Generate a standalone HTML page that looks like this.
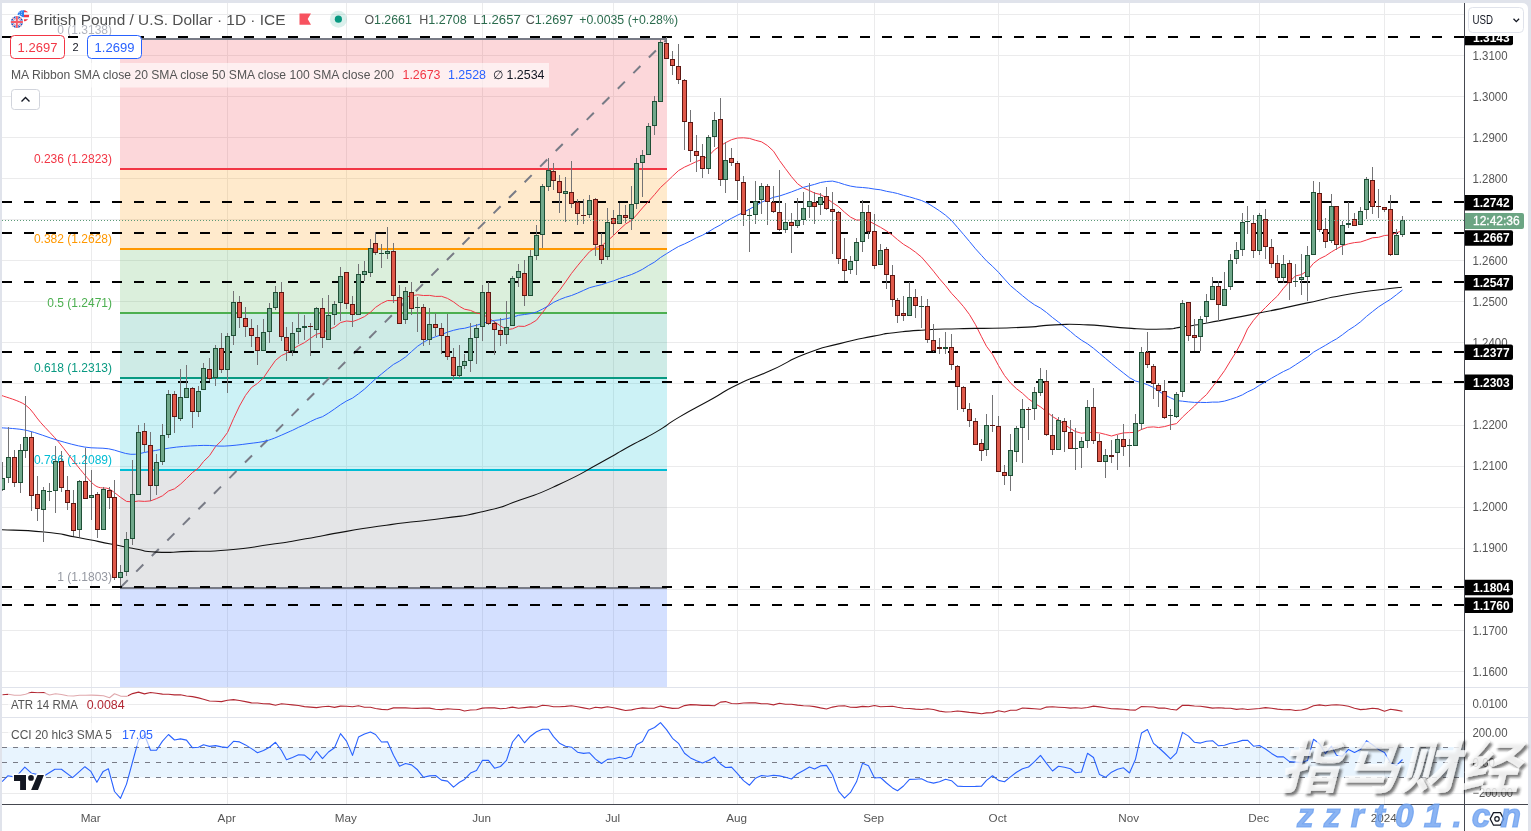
<!DOCTYPE html><html><head><meta charset="utf-8"><title>GBPUSD</title><style>html,body{margin:0;padding:0;background:#fff}body{width:1531px;height:831px;overflow:hidden}</style></head><body><svg width="1531" height="831" viewBox="0 0 1531 831" style="display:block;font-family:'Liberation Sans', Arial, sans-serif">
<defs><clipPath id="cm"><rect x="2" y="3" width="1462" height="684"/></clipPath><clipPath id="ca"><rect x="2" y="3" width="1462.5" height="801.5"/></clipPath><clipPath id="cc"><rect x="2" y="718" width="1462.5" height="86.5"/></clipPath><clipPath id="cx"><rect x="1465" y="36" width="64" height="770"/></clipPath><filter id="sh" x="-10%" y="-10%" width="130%" height="140%"><feDropShadow dx="2.6" dy="2.6" stdDeviation="0.8" flood-color="#222" flood-opacity="0.8"/></filter></defs>
<rect width="1531" height="831" fill="#e0e3eb"/>
<path d="M2 3 H1522 Q1528 3 1528 9 V831 H2 Z" fill="#fff"/>
<path d="M91.5 3V804M227.5 3V804M346.5 3V804M482.5 3V804M613.5 3V804M737.5 3V804M874.5 3V804M998.5 3V804M1129.5 3V804M1259.5 3V804M1384.5 3V804M2 14.5H1464M2 55.5H1464M2 96.5H1464M2 137.5H1464M2 178.5H1464M2 219.5H1464M2 260.5H1464M2 301.5H1464M2 342.5H1464M2 383.5H1464M2 425.5H1464M2 466.5H1464M2 507.5H1464M2 548.5H1464M2 589.5H1464M2 630.5H1464M2 671.5H1464M2 704.5H1464M2 732.5H1464M2 793.5H1464" stroke="#ebebec" stroke-width="1" fill="none" shape-rendering="crispEdges"/>
<path d="M2 687.5H1528M2 717.5H1528" stroke="#e0e3eb" stroke-width="1" shape-rendering="crispEdges"/>
<g clip-path="url(#cm)" shape-rendering="crispEdges">
<rect x="120" y="39" width="547" height="130" fill="#f23645" fill-opacity="0.2"/>
<rect x="120" y="169" width="547" height="80.1" fill="#ff9800" fill-opacity="0.2"/>
<rect x="120" y="249.1" width="547" height="64.1" fill="#4caf50" fill-opacity="0.2"/>
<rect x="120" y="313.2" width="547" height="64.8" fill="#089981" fill-opacity="0.2"/>
<rect x="120" y="378" width="547" height="92" fill="#00bcd4" fill-opacity="0.2"/>
<rect x="120" y="470" width="547" height="117.7" fill="#787b86" fill-opacity="0.2"/>
<rect x="120" y="587.7" width="547" height="99.3" fill="#2962ff" fill-opacity="0.2"/>
<rect x="120" y="38" width="547" height="2" fill="#787b86"/>
<rect x="120" y="168" width="547" height="2" fill="#f23645"/>
<rect x="120" y="248" width="547" height="2" fill="#ff9800"/>
<rect x="120" y="312" width="547" height="2" fill="#4caf50"/>
<rect x="120" y="377" width="547" height="2" fill="#089981"/>
<rect x="120" y="469" width="547" height="2" fill="#00bcd4"/>
<rect x="120" y="587" width="547" height="2" fill="#787b86"/>
</g>
<path d="M120.7 587.2L666.6 39.8" stroke="#787b86" stroke-width="2" stroke-dasharray="10 12" fill="none" clip-path="url(#cm)"/>
<text x="112" y="33.6" font-size="12" fill="#b2b5be" text-anchor="end">0 (1.3138)</text>
<text x="112" y="162.8" font-size="12" fill="#f23645" text-anchor="end">0.236 (1.2823)</text>
<text x="112" y="242.9" font-size="12" fill="#ff9800" text-anchor="end">0.382 (1.2628)</text>
<text x="112" y="307" font-size="12" fill="#4caf50" text-anchor="end">0.5 (1.2471)</text>
<text x="112" y="371.8" font-size="12" fill="#089981" text-anchor="end">0.618 (1.2313)</text>
<text x="112" y="463.8" font-size="12" fill="#00bcd4" text-anchor="end">0.786 (1.2089)</text>
<text x="112" y="581" font-size="12" fill="#9598a1" text-anchor="end">1 (1.1803)</text>
<path d="M2 37H1464M2 202H1464M2 233H1464M2 282H1464M2 352H1464M2 382H1464M2 587H1464M2 605H1464" stroke="#000" stroke-width="2" stroke-dasharray="10 12" fill="none" shape-rendering="crispEdges"/>
<g clip-path="url(#cm)" fill="none" stroke-linejoin="round">
<path d="M1.7 395.5C5.7 397.1 19 400.5 25.5 405C32 409.5 35.1 416.4 40.8 422.7C46.4 429 53.2 435.6 59.4 443C65.6 450.4 72.1 459.7 78.1 466.8C84 473.9 90.1 481.9 95.1 485.5C100.1 489.1 104.8 487.3 108 488.5C111.2 489.7 113.4 491.9 114.5 492.6 L114.5 492.6 L120.5 497.3 L126.5 501.4 L132.5 501.9 L138.5 501 L144.5 501.4 L150.5 500.9 L156.5 498.6 L162.5 495.8 L168.5 491 L174.5 488.8 L180.5 484.2 L186.5 478.5 L192.5 472.5 L198.5 468 L203.5 461.5 L209.5 455.7 L215.5 446.6 L221.5 440.6 L227.5 432.5 L233.5 418.7 L239.5 406 L245.5 395.4 L251.5 387.5 L257.5 383.4 L263.5 377.8 L269.5 368.9 L275.5 360.4 L281.5 355.5 L286.5 353.3 L292.5 349.1 L298.5 345.7 L304.5 342.6 L310.5 338.3 L316.5 334.2 L322.5 332.7 L328.5 329.5 L334.5 327.3 L340.5 322.6 L346.5 321 L352.5 321.6 L358.5 319.4 L364.5 316.6 L370.5 312.2 L375.5 307.4 L381.5 303.4 L387.5 300.5 L393.5 300.7 L399.5 300.1 L405.5 297.1 L411.5 295.8 L417.5 294.8 L423.5 295.5 L429.5 295.4 L435.5 296.4 L441.5 296.3 L447.5 298.4 L453.5 301.9 L459.5 306.4 L464.5 309.2 L470.5 310.4 L476.5 313.1 L482.5 314.1 L488.5 317.9 L494.5 321.8 L500.5 325.9 L506.5 329.7 L512.5 328.8 L518.5 326.2 L524.5 326.4 L530.5 323.8 L536.5 320.2 L542.5 312.5 L548.5 304.8 L553.5 297.4 L559.5 290.3 L565.5 282 L571.5 273.4 L577.5 265.8 L583.5 258.6 L589.5 251.7 L595.5 247.5 L601.5 245.9 L607.5 240.8 L613.5 235.5 L619.5 229.5 L625.5 224.1 L631.5 220.4 L636.5 215 L642.5 207.9 L648.5 201.4 L654.5 194.7 L660.5 187.5 L666.5 182 L672.5 176.2 L678.5 170.6 L684.5 167.1 L690.5 164.4 L696.5 161.5 L702.5 159.2 L708.5 156.1 L714.5 149.8 L720.5 145.8 L725.5 142.7 L731.5 139.7 L737.5 138 L743.5 137.8 L749.5 138.4 L755.5 140.3 L761.5 141.8 L767.5 145.6 L773.5 151.2 L779.5 160.5 L785.5 168.7 L791.5 176.7 L797.5 183.7 L803.5 188 L809.5 190.6 L814.5 193.1 L820.5 194.5 L826.5 198.1 L832.5 202.7 L838.5 206.6 L844.5 212.2 L850.5 217.1 L856.5 220.1 L862.5 220 L868.5 220.8 L874.5 224.1 L880.5 227.3 L886.5 230.9 L892.5 235.3 L897.5 239.6 L903.5 244.3 L909.5 247.9 L915.5 252.2 L921.5 257.1 L927.5 264 L933.5 271.2 L939.5 278.8 L945.5 285.7 L951.5 293.3 L957.5 299.7 L963.5 306.6 L969.5 314.6 L975.5 324.7 L981.5 336.7 L986.5 346.3 L992.5 354.3 L998.5 365.5 L1004.5 375.5 L1010.5 383 L1016.5 388.7 L1022.5 393.3 L1028.5 398.9 L1034.5 403.2 L1040.5 406.9 L1046.5 411.6 L1052.5 416.6 L1058.5 420.1 L1064.5 424.4 L1070.5 428.6 L1075.5 431.6 L1081.5 433.2 L1087.5 432.5 L1093.5 432.4 L1099.5 432.9 L1105.5 434.4 L1111.5 436 L1117.5 434.3 L1123.5 432.9 L1129.5 432.6 L1135.5 432.4 L1141.5 429.5 L1147.5 427.3 L1153.5 426.9 L1158.5 427.5 L1164.5 426.6 L1170.5 424.9 L1176.5 423.6 L1182.5 417.1 L1188.5 411.5 L1194.5 406 L1200.5 399.9 L1206.5 394.6 L1212.5 386.8 L1218.5 379 L1224.5 370.7 L1230.5 360.8 L1236.5 351.3 L1242.5 340.1 L1247.5 328.9 L1253.5 320.3 L1259.5 313.4 L1265.5 307.5 L1271.5 301.5 L1277.5 295.9 L1283.5 288.2 L1289.5 281.6 L1295.5 275.9 L1301.5 274.6 L1307.5 270.6 L1313.5 263.3 L1319.5 258.8 L1325.5 255.9 L1331.5 251.9 L1336.5 248.9 L1342.5 245.7 L1348.5 243.8 L1354.5 242.6 L1360.5 242 L1366.5 240 L1372.5 237.8 L1378.5 237.3 L1384.5 235.5 L1390.5 235 L1396.5 232.8 L1402.5 230.6" stroke="#f23645" stroke-width="1"/>
<path d="M1.7 427.8C6 428.2 17.9 428.4 27.2 430.5C36.5 432.6 48.1 437.5 57.7 440.3C67.3 443.1 76.4 445.7 84.9 447.1C93.4 448.5 101 447.6 108.7 448.8C116.4 450 124 453.9 130.8 454.3C137.6 454.8 141.9 452.7 149.5 451.5C157.1 450.3 167.5 448.1 176.6 447.1C185.7 446.1 195.9 445.6 203.8 445.4C211.7 445.2 216.8 446.4 224.2 446.1C231.6 445.8 240.7 444.7 248 443.7C255.3 442.7 260.9 442.5 268.3 440.3C275.7 438.1 288.5 431.9 292.5 430.3 L292.5 430.3 L298.5 427.3 L304.5 424.7 L310.5 421.5 L316.5 418.7 L322.5 416.7 L328.5 413.1 L334.5 409 L340.5 404.7 L346.5 401 L352.5 398.1 L358.5 393.8 L364.5 389.1 L370.5 383.5 L375.5 378.9 L381.5 374 L387.5 369.1 L393.5 364.4 L399.5 361.1 L405.5 357 L411.5 351.6 L417.5 346.3 L423.5 342.3 L429.5 338.9 L435.5 336.8 L441.5 334.7 L447.5 332.1 L453.5 330.3 L459.5 328.9 L464.5 328.3 L470.5 326.7 L476.5 325.3 L482.5 323.4 L488.5 321.6 L494.5 320.4 L500.5 319.8 L506.5 318.7 L512.5 317.3 L518.5 315.3 L524.5 314.5 L530.5 313.6 L536.5 312 L542.5 309.1 L548.5 305.8 L553.5 302.4 L559.5 299.6 L565.5 297.3 L571.5 295.5 L577.5 293.1 L583.5 290.4 L589.5 287.7 L595.5 286.1 L601.5 284.7 L607.5 282.6 L613.5 280.9 L619.5 278.5 L625.5 276.5 L631.5 274.5 L636.5 272.3 L642.5 269.3 L648.5 265.5 L654.5 262.1 L660.5 257.5 L666.5 253.7 L672.5 250 L678.5 246.5 L684.5 243.9 L690.5 241 L696.5 237.7 L702.5 235.2 L708.5 231.8 L714.5 228.1 L720.5 224.9 L725.5 221.6 L731.5 218.3 L737.5 215.2 L743.5 212.3 L749.5 209.1 L755.5 205.8 L761.5 202.3 L767.5 199.6 L773.5 197.3 L779.5 196 L785.5 194 L791.5 191.9 L797.5 189.6 L803.5 187.3 L809.5 185.7 L814.5 184.4 L820.5 182.5 L826.5 181.5 L832.5 181.1 L838.5 182.5 L844.5 184.5 L850.5 186.1 L856.5 187.1 L862.5 187.5 L868.5 188.1 L874.5 189.1 L880.5 189.8 L886.5 191.3 L892.5 192.4 L897.5 193.5 L903.5 195.4 L909.5 196.9 L915.5 198.7 L921.5 200.5 L927.5 203.2 L933.5 206.9 L939.5 210.8 L945.5 215.2 L951.5 220.5 L957.5 227.4 L963.5 234.4 L969.5 241.5 L975.5 248.8 L981.5 255.4 L986.5 260.9 L992.5 266.3 L998.5 272.3 L1004.5 279.1 L1010.5 285.7 L1016.5 290.7 L1022.5 295.7 L1028.5 300.6 L1034.5 304.8 L1040.5 308.1 L1046.5 312.5 L1052.5 317.5 L1058.5 322.1 L1064.5 326.7 L1070.5 331.5 L1075.5 335.8 L1081.5 340.2 L1087.5 343.8 L1093.5 348.3 L1099.5 353.3 L1105.5 358.4 L1111.5 363.4 L1117.5 368.3 L1123.5 373 L1129.5 377.7 L1135.5 381 L1141.5 382.6 L1147.5 384.7 L1153.5 387.5 L1158.5 391.1 L1164.5 394.8 L1170.5 397.8 L1176.5 400.6 L1182.5 401.2 L1188.5 401.9 L1194.5 402.4 L1200.5 402.4 L1206.5 402.5 L1212.5 402.1 L1218.5 402.1 L1224.5 401.1 L1230.5 399.3 L1236.5 397.3 L1242.5 394.8 L1247.5 391.9 L1253.5 389.2 L1259.5 385.3 L1265.5 381.8 L1271.5 378.2 L1277.5 374.8 L1283.5 371.5 L1289.5 368.7 L1295.5 364.8 L1301.5 360.9 L1307.5 357 L1313.5 352.2 L1319.5 348.7 L1325.5 345.3 L1331.5 341.6 L1336.5 338.9 L1342.5 334.7 L1348.5 330.1 L1354.5 326.3 L1360.5 321.8 L1366.5 316.4 L1372.5 311.6 L1378.5 306.9 L1384.5 303 L1390.5 299.3 L1396.5 294.7 L1402.5 290" stroke="#2962ff" stroke-width="1"/>
<path d="M1.7 529.7C15.9 530.5 18.7 529.4 44.2 532C69.7 534.6 55.5 533.4 78.1 537.5C100.7 541.6 92.8 540.5 112.1 544.3C131.4 548.1 121.2 546.4 135.9 549C150.6 551.6 138.2 551.3 156.3 552.1C174.4 552.9 166.4 552.1 190.2 551.4C214 550.7 200.4 552.4 227.6 550C254.8 547.6 245.7 548 271.7 544.3C297.7 540.6 280.8 543.1 305.7 538.8C330.6 534.5 318.2 536.1 346.5 531.4C374.8 526.7 358.9 528.9 390.6 524.6C422.3 520.3 411 522.8 441.6 518.5C472.2 514.2 456.2 517.8 482.3 511.7C508.4 505.6 494.1 509.3 520 500.1C545.9 490.9 533.3 496.4 560 484C586.7 471.6 576.7 475.7 600 463C623.3 450.3 611.2 456.4 630 446C648.8 435.6 639.6 441.7 656.3 431.9C673 422.1 661.9 427.3 680 416.6C698.1 405.9 691.3 410.4 710.6 399.7C729.9 389 717.4 394.3 737.8 384.4C758.2 374.5 749.1 380.3 771.7 370.1C794.3 359.9 783 362.6 805.7 353.8C828.4 345 817.1 349.5 839.7 343.6C862.3 337.7 855.5 339.7 873.6 336.1C891.7 332.5 877 334.7 894 332.7C911 330.7 903.1 331.3 924.6 330C946.1 328.7 936 329.3 958.6 328.7C981.2 328.1 969.6 328.7 992.5 328.2C1015.4 327.7 1006.6 328.2 1027.4 327.1C1048.2 326 1034.8 325.6 1054.9 324.9C1075 324.2 1062.2 323.7 1087.8 324.9C1113.4 326.1 1106.1 327 1131.7 328.4C1157.3 329.8 1148.1 329.4 1164.6 329C1181.1 328.6 1166.5 329.2 1181.1 327.1C1195.7 325 1182.9 327.3 1208.5 322.7C1234.1 318.1 1225 319.9 1257.9 313.3C1290.8 306.7 1279 308.9 1307.3 302.9C1335.6 296.9 1317.3 299.8 1342.9 295.2C1368.5 290.6 1364.4 291.8 1384.1 289.2C1403.8 286.6 1396 287.9 1401.9 287.3" stroke="#111" stroke-width="1.1"/>
</g>
<g clip-path="url(#cm)" shape-rendering="crispEdges">
<path d="M2.5 462V491M8.5 427V483M14.5 450V487M20.5 444V493M25.5 396V458M31.5 432V511M37.5 476V521M43.5 487V542M49.5 483V501M55.5 446V513M61.5 451V492M67.5 476V510M73.5 490V536M79.5 480V537M85.5 448V499M91.5 470V520M97.5 492V538M103.5 487V530M109.5 487V509M114.5 480V580M120.5 565V586M126.5 532V576M132.5 460V545M138.5 425V495M144.5 423V452M150.5 432V501M156.5 454V495M162.5 424V465M168.5 390V438M174.5 391V433M180.5 369V421M186.5 365V398M192.5 387V428M198.5 386V417M203.5 363V390M209.5 358V381M215.5 345V386M221.5 333V373M227.5 333V393M233.5 291V345M239.5 296V328M245.5 307V337M251.5 319V347M257.5 325V365M263.5 319V351M269.5 303V343M275.5 286V310M281.5 282V341M286.5 327V361M292.5 322V356M298.5 312V344M304.5 315V340M310.5 323V356M316.5 307V338M322.5 298V348M328.5 295V340M334.5 301V325M340.5 267V321M346.5 272V309M352.5 296V327M358.5 264V315M364.5 261V281M370.5 239V277M375.5 232V255M381.5 244V268M387.5 227V259M393.5 243V303M399.5 285V324M405.5 287V324M411.5 282V315M417.5 297V332M423.5 304V346M429.5 308V345M435.5 313V336M441.5 323V354M447.5 314V360M453.5 348V380M459.5 345V378M464.5 354V369M470.5 323V372M476.5 324V364M482.5 285V341M488.5 282V325M494.5 321V355M500.5 318V346M506.5 301V344M512.5 276V326M518.5 264V287M524.5 260V306M530.5 250V296M536.5 225V260M542.5 184V248M548.5 158V191M553.5 163V190M559.5 175V213M565.5 177V222M571.5 161V208M577.5 199V225M583.5 199V224M589.5 195V218M595.5 198V256M601.5 233V264M607.5 208V260M613.5 210V235M619.5 203V224M625.5 205V223M631.5 186V230M636.5 158V209M642.5 150V197M648.5 123V155M654.5 96V135M660.5 39V102M666.5 37V59M672.5 51V75M678.5 44V84M684.5 79V150M690.5 110V162M696.5 135V172M702.5 144V178M708.5 135V174M714.5 112V147M720.5 98V186M725.5 142V193M731.5 148V166M737.5 161V200M743.5 176V226M749.5 209V252M755.5 181V224M761.5 183V214M767.5 184V225M773.5 186V213M779.5 170V231M785.5 203V233M791.5 213V253M797.5 198V228M803.5 192V225M809.5 183V218M814.5 192V224M820.5 193V215M826.5 187V210M832.5 192V254M838.5 211V264M844.5 238V281M850.5 256V274M856.5 238V275M862.5 200V252M868.5 205V239M874.5 214V269M880.5 244V265M886.5 247V289M892.5 265V307M897.5 298V323M903.5 296V321M909.5 282V316M915.5 289V318M921.5 296V328M927.5 299V343M933.5 324V352M939.5 338V354M945.5 332V354M951.5 334V370M957.5 365V410M963.5 386V412M969.5 403V427M975.5 418V445M981.5 439V461M986.5 414V456M992.5 395V432M998.5 416V472M1004.5 465V485M1010.5 434V491M1016.5 426V462M1022.5 399V463M1028.5 407V440M1034.5 387V420M1040.5 368V396M1046.5 370V436M1052.5 414V455M1058.5 417V450M1064.5 418V452M1070.5 420V449M1075.5 428V470M1081.5 437V468M1087.5 400V448M1093.5 388V444M1099.5 434V462M1105.5 449V478M1111.5 440V463M1117.5 435V470M1123.5 424V456M1129.5 439V467M1135.5 414V446M1141.5 347V430M1147.5 332V368M1153.5 364V399M1158.5 383V407M1164.5 380V419M1170.5 409V430M1176.5 392V418M1182.5 300V397M1188.5 302V341M1194.5 319V351M1200.5 316V351M1206.5 294V324M1212.5 277V300M1218.5 281V321M1224.5 272V306M1230.5 254V290M1236.5 242V264M1242.5 213V256M1247.5 206V234M1253.5 215V258M1259.5 213V255M1265.5 209V259M1271.5 239V268M1277.5 255V281M1283.5 255V283M1289.5 260V300M1295.5 264V287M1301.5 254V295M1307.5 246V301M1313.5 181V255M1319.5 182V232M1325.5 218V248M1331.5 194V243M1336.5 206V250M1342.5 221V255M1348.5 202V228M1354.5 213V226M1360.5 207V225M1366.5 177V219M1372.5 167V214M1378.5 189V218M1384.5 207V212M1390.5 195V256M1396.5 229V255M1402.5 216V237" stroke="#737375" stroke-width="1" fill="none"/>
<path d="M0.5 478.5h4v11h-4zM6.5 457.5h4v20h-4zM18.5 450.5h4v32h-4zM23.5 437.5h4v13h-4zM41.5 490.5h4v19h-4zM47 491.5h5M53.5 461.5h4v29h-4zM77.5 481.5h4v48h-4zM89.5 495.5h4v2h-4zM101.5 489.5h4v40h-4zM118.5 572.5h4v5h-4zM124.5 539.5h4v32h-4zM130.5 494.5h4v44h-4zM136.5 432.5h4v62h-4zM154.5 462.5h4v23h-4zM160.5 435.5h4v26h-4zM166.5 394.5h4v40h-4zM178.5 397.5h4v21h-4zM184.5 388.5h4v9h-4zM196.5 391.5h4v20h-4zM201.5 368.5h4v21h-4zM213.5 348.5h4v29h-4zM225.5 336.5h4v33h-4zM231.5 302.5h4v33h-4zM261.5 332.5h4v18h-4zM267.5 308.5h4v23h-4zM273.5 292.5h4v15h-4zM290.5 333.5h4v17h-4zM296.5 328.5h4v3h-4zM302.5 326.5h4v1h-4zM314.5 308.5h4v21h-4zM326.5 315.5h4v24h-4zM332.5 304.5h4v10h-4zM338.5 276.5h4v26h-4zM356.5 274.5h4v40h-4zM362.5 271.5h4v3h-4zM368.5 248.5h4v24h-4zM379 253.5h5M385.5 251.5h4v2h-4zM403.5 291.5h4v28h-4zM415 307.5h5M427.5 324.5h4v15h-4zM457.5 366.5h4v9h-4zM462.5 361.5h4v4h-4zM468.5 338.5h4v22h-4zM474.5 328.5h4v9h-4zM480.5 292.5h4v34h-4zM504.5 327.5h4v7h-4zM510.5 278.5h4v47h-4zM516.5 271.5h4v6h-4zM528.5 256.5h4v39h-4zM534.5 235.5h4v20h-4zM540.5 186.5h4v48h-4zM546.5 170.5h4v16h-4zM563.5 191.5h4v2h-4zM587.5 200.5h4v14h-4zM605.5 222.5h4v34h-4zM617.5 215.5h4v8h-4zM629.5 204.5h4v14h-4zM634.5 163.5h4v40h-4zM640.5 155.5h4v7h-4zM646.5 126.5h4v28h-4zM652.5 101.5h4v24h-4zM658.5 42.5h4v59h-4zM706.5 137.5h4v31h-4zM712.5 120.5h4v16h-4zM723.5 160.5h4v19h-4zM747 215.5h5M753.5 201.5h4v13h-4zM759.5 186.5h4v13h-4zM783.5 222.5h4v7h-4zM795.5 220.5h4v5h-4zM801.5 208.5h4v11h-4zM807.5 201.5h4v5h-4zM818.5 197.5h4v7h-4zM848.5 261.5h4v8h-4zM854.5 242.5h4v18h-4zM860.5 212.5h4v29h-4zM878.5 250.5h4v14h-4zM907.5 297.5h4v18h-4zM919 306.5h5M943.5 347.5h4v1h-4zM984.5 425.5h4v24h-4zM1008.5 450.5h4v25h-4zM1014.5 428.5h4v23h-4zM1020.5 409.5h4v18h-4zM1032.5 392.5h4v16h-4zM1038.5 379.5h4v13h-4zM1056.5 420.5h4v29h-4zM1073 448.5h5M1079.5 441.5h4v6h-4zM1085.5 407.5h4v33h-4zM1103.5 455.5h4v6h-4zM1115.5 439.5h4v13h-4zM1127 445.5h5M1133.5 423.5h4v22h-4zM1139.5 352.5h4v71h-4zM1168 415.5h5M1174.5 394.5h4v22h-4zM1180.5 303.5h4v88h-4zM1198.5 319.5h4v17h-4zM1204.5 301.5h4v15h-4zM1210.5 286.5h4v13h-4zM1222.5 289.5h4v16h-4zM1228.5 260.5h4v26h-4zM1234.5 250.5h4v8h-4zM1240.5 222.5h4v27h-4zM1245 221.5h5M1257.5 215.5h4v35h-4zM1281.5 264.5h4v13h-4zM1293 281.5h5M1299.5 277.5h4v2h-4zM1305.5 255.5h4v21h-4zM1311.5 192.5h4v62h-4zM1329.5 206.5h4v34h-4zM1340.5 225.5h4v19h-4zM1346.5 223.5h4v1h-4zM1358.5 211.5h4v13h-4zM1364.5 179.5h4v30h-4zM1394.5 235.5h4v19h-4zM1400.5 220.5h4v14h-4z" stroke="#1f4f36" stroke-width="1" fill="#70a88b"/>
<path d="M12.5 457.5h4v25h-4zM29.5 437.5h4v58h-4zM35.5 494.5h4v14h-4zM59.5 461.5h4v26h-4zM65.5 490.5h4v12h-4zM71.5 503.5h4v27h-4zM83.5 481.5h4v17h-4zM95.5 494.5h4v35h-4zM107.5 490.5h4v7h-4zM112.5 497.5h4v80h-4zM142.5 431.5h4v13h-4zM148.5 445.5h4v40h-4zM172.5 394.5h4v22h-4zM190.5 388.5h4v23h-4zM207.5 369.5h4v9h-4zM219.5 348.5h4v21h-4zM237.5 302.5h4v15h-4zM243.5 318.5h4v8h-4zM249.5 328.5h4v7h-4zM255.5 337.5h4v13h-4zM279.5 292.5h4v44h-4zM284.5 337.5h4v13h-4zM308 326.5h5M320.5 308.5h4v29h-4zM344.5 272.5h4v31h-4zM350.5 304.5h4v10h-4zM373.5 243.5h4v9h-4zM391.5 251.5h4v44h-4zM397.5 297.5h4v26h-4zM409.5 292.5h4v16h-4zM421.5 307.5h4v32h-4zM433.5 324.5h4v3h-4zM439.5 328.5h4v7h-4zM445.5 336.5h4v20h-4zM451.5 357.5h4v18h-4zM486.5 292.5h4v31h-4zM492.5 323.5h4v6h-4zM498.5 330.5h4v4h-4zM522.5 273.5h4v22h-4zM551.5 171.5h4v9h-4zM557.5 181.5h4v11h-4zM569.5 192.5h4v11h-4zM575.5 202.5h4v11h-4zM581 215.5h5M593.5 199.5h4v45h-4zM599.5 245.5h4v14h-4zM611.5 218.5h4v5h-4zM623.5 215.5h4v2h-4zM664.5 43.5h4v15h-4zM670.5 59.5h4v6h-4zM676.5 66.5h4v13h-4zM682.5 80.5h4v41h-4zM688.5 122.5h4v28h-4zM694.5 151.5h4v4h-4zM700.5 156.5h4v12h-4zM718.5 119.5h4v60h-4zM729.5 158.5h4v4h-4zM735.5 163.5h4v17h-4zM741.5 182.5h4v32h-4zM765.5 186.5h4v15h-4zM771.5 202.5h4v9h-4zM777.5 212.5h4v17h-4zM789.5 222.5h4v3h-4zM812.5 202.5h4v4h-4zM824.5 196.5h4v12h-4zM830.5 209.5h4v2h-4zM836.5 212.5h4v46h-4zM842.5 259.5h4v11h-4zM866.5 212.5h4v19h-4zM872.5 231.5h4v34h-4zM884.5 249.5h4v25h-4zM890.5 275.5h4v24h-4zM895.5 300.5h4v15h-4zM901.5 313.5h4v2h-4zM913.5 297.5h4v8h-4zM925.5 306.5h4v33h-4zM931.5 340.5h4v10h-4zM937.5 347.5h4v1h-4zM949.5 347.5h4v17h-4zM955.5 366.5h4v20h-4zM961.5 387.5h4v21h-4zM967.5 409.5h4v11h-4zM973.5 421.5h4v23h-4zM979.5 443.5h4v7h-4zM990 425.5h5M996.5 426.5h4v45h-4zM1002.5 472.5h4v3h-4zM1026 409.5h5M1044.5 381.5h4v53h-4zM1050.5 435.5h4v14h-4zM1062.5 421.5h4v10h-4zM1068.5 432.5h4v16h-4zM1091.5 407.5h4v33h-4zM1097.5 441.5h4v20h-4zM1109.5 455.5h4v1h-4zM1121.5 439.5h4v7h-4zM1145.5 352.5h4v12h-4zM1151.5 366.5h4v17h-4zM1156.5 385.5h4v5h-4zM1162.5 391.5h4v26h-4zM1186.5 302.5h4v33h-4zM1192.5 335.5h4v2h-4zM1216.5 286.5h4v18h-4zM1251.5 223.5h4v27h-4zM1263.5 219.5h4v27h-4zM1269.5 247.5h4v16h-4zM1275.5 263.5h4v14h-4zM1287.5 263.5h4v19h-4zM1317.5 193.5h4v36h-4zM1323.5 229.5h4v12h-4zM1334.5 206.5h4v38h-4zM1352.5 219.5h4v6h-4zM1370.5 180.5h4v26h-4zM1376 206.5h5M1382.5 207.5h4v2h-4zM1388.5 209.5h4v45h-4z" stroke="#5e1712" stroke-width="1" fill="#e0594a"/>
</g>
<path d="M2 220.5H1464" stroke="#5b9a78" stroke-width="1" stroke-dasharray="1 2" shape-rendering="crispEdges"/>
<path d="M2.5 694.8 L8.5 694.3 L14.5 695.3 L20.5 695.3 L25.5 694.3 L31.5 692.2 L37.5 692.7 L43.5 692.5 L49.5 695 L55.5 693.7 L61.5 694.5 L67.5 695.7 L73.5 696 L79.5 695.3 L85.5 695.2 L91.5 695.1 L97.5 695.4 L103.5 695.8 L109.5 697.8 L114.5 693.8 L120.5 696.1 L126.5 696.4 L132.5 693.6 L138.5 692.1 L144.5 693.9 L150.5 692.5 L156.5 693.3 L162.5 694.1 L168.5 694.3 L174.5 694.9 L180.5 694.7 L186.5 696 L192.5 696.6 L198.5 697.9 L203.5 699.3 L209.5 701 L215.5 701.3 L221.5 701.6 L227.5 700.3 L233.5 699.6 L239.5 700.5 L245.5 701.6 L251.5 702.9 L257.5 703 L263.5 703.8 L269.5 703.9 L275.5 705.2 L281.5 703.7 L286.5 704.3 L292.5 704.9 L298.5 705.5 L304.5 706.6 L310.5 707.1 L316.5 707.6 L322.5 706.7 L328.5 706.2 L334.5 707.4 L340.5 706.1 L346.5 706.3 L352.5 706.8 L358.5 705.8 L364.5 707.3 L370.5 707.3 L375.5 708.5 L381.5 709.4 L387.5 709.7 L393.5 707.9 L399.5 707.8 L405.5 707.9 L411.5 708.3 L417.5 708.4 L423.5 708 L429.5 708.1 L435.5 709.2 L441.5 709.6 L447.5 708.8 L453.5 709.2 L459.5 709.5 L464.5 711 L470.5 710 L476.5 709.7 L482.5 708.1 L488.5 707.7 L494.5 707.9 L500.5 708.7 L506.5 708.2 L512.5 707.1 L518.5 708.3 L524.5 707.6 L530.5 706.9 L536.5 707.2 L542.5 705.2 L548.5 705.8 L553.5 706.8 L559.5 706.8 L565.5 706.4 L571.5 705.7 L577.5 706.8 L583.5 707.9 L589.5 709 L595.5 707.3 L601.5 707.9 L607.5 706.8 L613.5 707.8 L619.5 709.1 L625.5 710.5 L631.5 709.9 L636.5 708.7 L642.5 707.9 L648.5 708.3 L654.5 708.1 L660.5 706.1 L666.5 707.4 L672.5 708.4 L678.5 708.2 L684.5 705.6 L690.5 704.6 L696.5 704.9 L702.5 705.4 L708.5 705.4 L714.5 705.8 L720.5 702.1 L725.5 701.6 L731.5 703.5 L737.5 703.7 L743.5 703 L749.5 702.9 L755.5 702.9 L761.5 703.7 L767.5 703.8 L773.5 704.9 L779.5 703.3 L785.5 704.2 L791.5 704.3 L797.5 705.1 L803.5 705.7 L809.5 706 L814.5 706.6 L820.5 707.9 L826.5 709 L832.5 707.1 L838.5 706 L844.5 705.7 L850.5 707.3 L856.5 707.4 L862.5 706.4 L868.5 706.8 L874.5 705.5 L880.5 706.8 L886.5 706.5 L892.5 706.2 L897.5 707.3 L903.5 708.3 L909.5 708.5 L915.5 709.1 L921.5 709.5 L927.5 708.8 L933.5 709.5 L939.5 711.1 L945.5 712 L951.5 711.8 L957.5 711 L963.5 711.6 L969.5 712.4 L975.5 712.9 L981.5 713.7 L986.5 712.9 L992.5 712.6 L998.5 710.8 L1004.5 712 L1010.5 710.2 L1016.5 710.2 L1022.5 708 L1028.5 708.4 L1034.5 708.7 L1040.5 709.3 L1046.5 707.1 L1052.5 706.8 L1058.5 707.2 L1064.5 707.5 L1070.5 708.1 L1075.5 707.8 L1081.5 708.3 L1087.5 707.5 L1093.5 706.1 L1099.5 706.9 L1105.5 707.7 L1111.5 708.8 L1117.5 708.9 L1123.5 709.2 L1129.5 709.9 L1135.5 710.1 L1141.5 706.5 L1147.5 706.7 L1153.5 707 L1158.5 708.1 L1164.5 708 L1170.5 709.2 L1176.5 710 L1182.5 705.3 L1188.5 705.4 L1194.5 706 L1200.5 706.3 L1206.5 707.1 L1212.5 708.1 L1218.5 707.8 L1224.5 708.1 L1230.5 708.2 L1236.5 709.4 L1242.5 708.8 L1247.5 709.5 L1253.5 709 L1259.5 708.5 L1265.5 707.6 L1271.5 708.2 L1277.5 709.1 L1283.5 709.7 L1289.5 709.5 L1295.5 710.5 L1301.5 710 L1307.5 708.6 L1313.5 705.7 L1319.5 704.9 L1325.5 705.7 L1331.5 705 L1336.5 704.7 L1342.5 705.3 L1348.5 706.3 L1354.5 708.3 L1360.5 709.6 L1366.5 709.1 L1372.5 708.3 L1378.5 708.9 L1384.5 711.3 L1390.5 709.3 L1396.5 710.1 L1402.5 711.2" stroke="#b22833" stroke-width="1.1" fill="none" stroke-linejoin="round"/>
<rect x="2" y="747" width="1462" height="30.5" fill="#2196f3" fill-opacity="0.1"/>
<path d="M2 747.5H1464M2 762.5H1464M2 777.5H1464" stroke="#787b86" stroke-width="1" stroke-dasharray="5 6" shape-rendering="crispEdges"/>
<path d="M2.1 781.6 L7.8 775.8 L15.7 777.1 L24.8 767.2 L31.4 773.2 L44.4 775.8 L54.9 769.3 L61.4 769.3 L72.6 777.6 L84.9 766.7 L90.9 771.4 L96.9 782.3 L103.2 771.4 L108.4 768.8 L114.5 791.5 L120.5 798.3 L126.5 784.1 L132.5 762 L138.5 740.2 L144.5 734.7 L150.5 750.2 L156.5 750.2 L162.5 741.1 L168.5 734.5 L174.5 740 L180.5 738.9 L186.5 740.1 L192.5 747.8 L198.5 747.3 L203.5 744.8 L209.5 746.4 L215.5 745.6 L221.5 746.9 L227.5 747.6 L233.5 741.3 L239.5 741.9 L245.5 744.9 L251.5 748.6 L257.5 752.7 L263.5 750.6 L269.5 747.2 L275.5 742.3 L281.5 750.5 L286.5 759.8 L292.5 757.5 L298.5 754.8 L304.5 755.1 L310.5 760 L316.5 751.3 L322.5 758.6 L328.5 752 L334.5 747.7 L340.5 733.6 L346.5 741.1 L352.5 755.4 L358.5 737.1 L364.5 734 L370.5 732.1 L375.5 734.5 L381.5 742 L387.5 741.8 L393.5 755.3 L399.5 766.2 L405.5 763.5 L411.5 764.9 L417.5 769.8 L423.5 777.3 L429.5 775.9 L435.5 775.5 L441.5 780.1 L447.5 781.1 L453.5 787.1 L459.5 782.3 L464.5 779.4 L470.5 773.1 L476.5 770.6 L482.5 760.2 L488.5 760.4 L494.5 768.2 L500.5 766.5 L506.5 760.3 L512.5 742 L518.5 734.6 L524.5 742.8 L530.5 736.2 L536.5 731.7 L542.5 729.3 L548.5 729.2 L553.5 736.6 L559.5 743.2 L565.5 746.2 L571.5 747.2 L577.5 752.2 L583.5 753.4 L589.5 752.8 L595.5 759.1 L601.5 763.5 L607.5 759.4 L613.5 758.8 L619.5 757.3 L625.5 758.8 L631.5 756.4 L636.5 744.8 L642.5 741.5 L648.5 730.2 L654.5 727.5 L660.5 722.6 L666.5 729.6 L672.5 738.3 L678.5 743.3 L684.5 753.2 L690.5 757.9 L696.5 760.8 L702.5 763 L708.5 760.6 L714.5 757.1 L720.5 764 L725.5 767.5 L731.5 767.1 L737.5 773.6 L743.5 780.6 L749.5 785.2 L755.5 778.2 L761.5 775.5 L767.5 776.2 L773.5 775.2 L779.5 775.9 L785.5 777.3 L791.5 779 L797.5 773.7 L803.5 770.4 L809.5 766.9 L814.5 769 L820.5 765.9 L826.5 765.4 L832.5 774.8 L838.5 791.1 L844.5 798.2 L850.5 792.4 L856.5 781.8 L862.5 763.3 L868.5 765.7 L874.5 778 L880.5 777.5 L886.5 783 L892.5 787.9 L897.5 790.8 L903.5 786 L909.5 779.4 L915.5 779.2 L921.5 778.8 L927.5 781.8 L933.5 783.1 L939.5 781.8 L945.5 779.3 L951.5 780.7 L957.5 786.1 L963.5 786.5 L969.5 786.5 L975.5 786.4 L981.5 786.1 L986.5 780.4 L992.5 775.8 L998.5 780.4 L1004.5 781.8 L1010.5 776.9 L1016.5 772.3 L1022.5 768.7 L1028.5 767 L1034.5 761.7 L1040.5 755.4 L1046.5 763.3 L1052.5 771 L1058.5 766.3 L1064.5 767.2 L1070.5 768.7 L1075.5 772.8 L1081.5 772 L1087.5 753.3 L1093.5 757.5 L1099.5 774.6 L1105.5 777.3 L1111.5 772.2 L1117.5 769.3 L1123.5 767.8 L1129.5 773 L1135.5 759.2 L1141.5 733 L1147.5 729.6 L1153.5 743.4 L1158.5 747.5 L1164.5 753 L1170.5 758.9 L1176.5 752.8 L1182.5 732.4 L1188.5 736.1 L1194.5 742.3 L1200.5 743.1 L1206.5 741.2 L1212.5 740.7 L1218.5 745.8 L1224.5 745.2 L1230.5 743.3 L1236.5 742.2 L1242.5 740.4 L1247.5 740.2 L1253.5 746.2 L1259.5 745.5 L1265.5 749 L1271.5 753.4 L1277.5 756.9 L1283.5 756.9 L1289.5 761.6 L1295.5 762.1 L1301.5 762.6 L1307.5 760.6 L1313.5 739.3 L1319.5 743.8 L1325.5 753.6 L1331.5 746.2 L1336.5 755.3 L1342.5 756.2 L1348.5 749.4 L1354.5 752.5 L1360.5 749.6 L1366.5 740.7 L1372.5 744.7 L1378.5 749.4 L1384.5 752.4 L1390.5 762.8 L1396.5 765.5 L1402.5 759.5" stroke="#2962ff" stroke-width="1.1" fill="none" stroke-linejoin="round" clip-path="url(#cc)"/>
<path d="M1464.5 3V831M2 804.5H1528" stroke="#45474f" stroke-width="1" fill="none" shape-rendering="crispEdges"/>
<text x="1472.5" y="59.5" font-size="12" fill="#555555" textLength="35" lengthAdjust="spacingAndGlyphs">1.3100</text>
<text x="1472.5" y="100.6" font-size="12" fill="#555555" textLength="35" lengthAdjust="spacingAndGlyphs">1.3000</text>
<text x="1472.5" y="141.6" font-size="12" fill="#555555" textLength="35" lengthAdjust="spacingAndGlyphs">1.2900</text>
<text x="1472.5" y="182.7" font-size="12" fill="#555555" textLength="35" lengthAdjust="spacingAndGlyphs">1.2800</text>
<text x="1472.5" y="223.8" font-size="12" fill="#555555" textLength="35" lengthAdjust="spacingAndGlyphs">1.2700</text>
<text x="1472.5" y="264.9" font-size="12" fill="#555555" textLength="35" lengthAdjust="spacingAndGlyphs">1.2600</text>
<text x="1472.5" y="305.9" font-size="12" fill="#555555" textLength="35" lengthAdjust="spacingAndGlyphs">1.2500</text>
<text x="1472.5" y="347" font-size="12" fill="#555555" textLength="35" lengthAdjust="spacingAndGlyphs">1.2400</text>
<text x="1472.5" y="388.1" font-size="12" fill="#555555" textLength="35" lengthAdjust="spacingAndGlyphs">1.2300</text>
<text x="1472.5" y="429.1" font-size="12" fill="#555555" textLength="35" lengthAdjust="spacingAndGlyphs">1.2200</text>
<text x="1472.5" y="470.2" font-size="12" fill="#555555" textLength="35" lengthAdjust="spacingAndGlyphs">1.2100</text>
<text x="1472.5" y="511.3" font-size="12" fill="#555555" textLength="35" lengthAdjust="spacingAndGlyphs">1.2000</text>
<text x="1472.5" y="552.3" font-size="12" fill="#555555" textLength="35" lengthAdjust="spacingAndGlyphs">1.1900</text>
<text x="1472.5" y="593.4" font-size="12" fill="#555555" textLength="35" lengthAdjust="spacingAndGlyphs">1.1800</text>
<text x="1472.5" y="634.5" font-size="12" fill="#555555" textLength="35" lengthAdjust="spacingAndGlyphs">1.1700</text>
<text x="1472.5" y="675.6" font-size="12" fill="#555555" textLength="35" lengthAdjust="spacingAndGlyphs">1.1600</text>
<text x="1472.5" y="708" font-size="12" fill="#555555" textLength="35" lengthAdjust="spacingAndGlyphs">0.0100</text>
<text x="1472.5" y="736.5" font-size="12" fill="#555555" textLength="35" lengthAdjust="spacingAndGlyphs">200.00</text>
<text x="1472.5" y="766.5" font-size="12" fill="#555555" textLength="22.5" lengthAdjust="spacingAndGlyphs">0.00</text>
<text x="1472.5" y="797" font-size="12" fill="#555555" textLength="40.5" lengthAdjust="spacingAndGlyphs">−200.00</text>
<g clip-path="url(#cx)">
<path d="M1465 29.8h46q2 0 2 2v11.5q0 2 -2 2h-46z" fill="#000"/>
<text x="1473" y="41.8" font-size="12" font-weight="bold" fill="#fff">1.3143</text>
<path d="M1465 194.9h46q2 0 2 2v11.5q0 2 -2 2h-46z" fill="#000"/>
<text x="1473" y="207" font-size="12" font-weight="bold" fill="#fff">1.2742</text>
<path d="M1465 230.2h46q2 0 2 2v11.5q0 2 -2 2h-46z" fill="#000"/>
<text x="1473" y="242.3" font-size="12" font-weight="bold" fill="#fff">1.2667</text>
<path d="M1465 275.1h46q2 0 2 2v11.5q0 2 -2 2h-46z" fill="#000"/>
<text x="1473" y="287.1" font-size="12" font-weight="bold" fill="#fff">1.2547</text>
<path d="M1465 344.6h46q2 0 2 2v11.5q0 2 -2 2h-46z" fill="#000"/>
<text x="1473" y="356.6" font-size="12" font-weight="bold" fill="#fff">1.2377</text>
<path d="M1465 374.6h46q2 0 2 2v11.5q0 2 -2 2h-46z" fill="#000"/>
<text x="1473" y="386.6" font-size="12" font-weight="bold" fill="#fff">1.2303</text>
<path d="M1465 579.8h46q2 0 2 2v11.5q0 2 -2 2h-46z" fill="#000"/>
<text x="1473" y="591.8" font-size="12" font-weight="bold" fill="#fff">1.1804</text>
<path d="M1465 597.5h46q2 0 2 2v11.5q0 2 -2 2h-46z" fill="#000"/>
<text x="1473" y="609.6" font-size="12" font-weight="bold" fill="#fff">1.1760</text>
<path d="M1465 213h57q2 0 2 2v12q0 2 -2 2h-57z" fill="#6ba583"/>
<text x="1473" y="225.4" font-size="12" fill="#fff" stroke="#fff" stroke-width="0.3">12:42:36</text>
</g>
<text x="90.7" y="822.3" font-size="11.7" fill="#555555" text-anchor="middle">Mar</text>
<text x="226.7" y="822.3" font-size="11.7" fill="#555555" text-anchor="middle">Apr</text>
<text x="345.7" y="822.3" font-size="11.7" fill="#555555" text-anchor="middle">May</text>
<text x="481.7" y="822.3" font-size="11.7" fill="#555555" text-anchor="middle">Jun</text>
<text x="612.7" y="822.3" font-size="11.7" fill="#555555" text-anchor="middle">Jul</text>
<text x="736.7" y="822.3" font-size="11.7" fill="#555555" text-anchor="middle">Aug</text>
<text x="873.7" y="822.3" font-size="11.7" fill="#555555" text-anchor="middle">Sep</text>
<text x="997.7" y="822.3" font-size="11.7" fill="#555555" text-anchor="middle">Oct</text>
<text x="1128.7" y="822.3" font-size="11.7" fill="#555555" text-anchor="middle">Nov</text>
<text x="1258.7" y="822.3" font-size="11.7" fill="#555555" text-anchor="middle">Dec</text>
<text x="1383.7" y="822.3" font-size="11.7" fill="#555555" text-anchor="middle">2024</text>
<rect x="1468.5" y="7.5" width="55" height="25" rx="4" fill="#fff" stroke="#e0e3eb"/>
<text x="1472.5" y="23.7" font-size="12" fill="#131722" textLength="20.5" lengthAdjust="spacingAndGlyphs">USD</text>
<path d="M1513.5 18.8l2.8 2.8l2.8-2.8" stroke="#131722" stroke-width="1.3" fill="none"/>
<path d="M1493.5 812.6h6.9l3.3 6.3l-3.3 6.3h-6.9l-3.3-6.3z" stroke="#131722" stroke-width="1.2" fill="none" stroke-linejoin="round"/><circle cx="1497" cy="818.9" r="2.2" stroke="#131722" stroke-width="1.2" fill="none"/>
<g><clipPath id="us"><circle cx="23.2" cy="15.8" r="5.9"/></clipPath><g clip-path="url(#us)"><rect x="17" y="9" width="13" height="14" fill="#fafcff"/><path d="M24 11.1h7M24 16h7M24 20.4h7" stroke="#f23645" stroke-width="2.3"/><rect x="17" y="9" width="7" height="8.2" fill="#2f80ed"/><path d="M19.3 12.2h0.01M21.6 12.2h0.01M19.3 14.4h0.01M21.6 14.4h0.01M22.8 10.6h0.01M20.4 10.6h0.01" stroke="#fff" stroke-width="0.9" stroke-linecap="round" opacity="0.8"/></g><circle cx="16.9" cy="22" r="7.3" fill="#fff"/><clipPath id="uk"><circle cx="16.9" cy="22" r="6.1"/></clipPath><g clip-path="url(#uk)"><rect x="10" y="15" width="14" height="14" fill="#1d4bb8"/><path d="M11.5 16.6l10.8 10.8M22.3 16.6l-10.8 10.8" stroke="#fff" stroke-width="1.6"/><path d="M11.5 16.6l10.8 10.8M22.3 16.6l-10.8 10.8" stroke="#f7525f" stroke-width="0.7"/><path d="M10 22h14M16.9 15v14" stroke="#fff" stroke-width="2.9"/><path d="M10 22h14M16.9 15v14" stroke="#f45b69" stroke-width="1.9"/></g></g>
<text x="33.5" y="24.8" font-size="15.4" fill="#505050" textLength="252" lengthAdjust="spacingAndGlyphs">British Pound / U.S. Dollar · 1D · ICE</text>
<path d="M299.5 13.5h11.5l-3.3 5.6l3.3 5.6h-11.5z" fill="#f7525f"/>
<circle cx="338.4" cy="19.2" r="8.5" fill="#089981" fill-opacity="0.15"/><circle cx="338.4" cy="19.2" r="3.6" fill="#089981"/>
<text x="364.4" y="24" font-size="13" fill="#505050" textLength="47.5" lengthAdjust="spacingAndGlyphs">O<tspan fill="#2a6b4d">1.2661</tspan></text>
<text x="419.3" y="24" font-size="13" fill="#505050" textLength="47.5" lengthAdjust="spacingAndGlyphs">H<tspan fill="#2a6b4d">1.2708</tspan></text>
<text x="473.3" y="24" font-size="13" fill="#505050" textLength="47.5" lengthAdjust="spacingAndGlyphs">L<tspan fill="#2a6b4d">1.2657</tspan></text>
<text x="525.8" y="24" font-size="13" fill="#505050" textLength="47.5" lengthAdjust="spacingAndGlyphs">C<tspan fill="#2a6b4d">1.2697</tspan></text>
<text x="579.3" y="24" font-size="13" fill="#2a6b4d" textLength="98.7" lengthAdjust="spacingAndGlyphs">+0.0035 (+0.28%)</text>
<rect x="10.5" y="35.5" width="54" height="23" rx="4" fill="#fff" stroke="#f23645"/><text x="37.5" y="51.7" font-size="13" fill="#f23645" text-anchor="middle">1.2697</text>
<text x="75.5" y="51" font-size="11" fill="#131722" text-anchor="middle">2</text>
<rect x="87.5" y="35.5" width="54" height="23" rx="4" fill="#fff" stroke="#2962ff"/><text x="114.5" y="51.7" font-size="13" fill="#2962ff" text-anchor="middle">1.2699</text>
<rect x="8" y="63" width="541" height="24.5" fill="#fff" fill-opacity="0.6"/>
<text x="11" y="79.3" font-size="13" fill="#555555" textLength="383" lengthAdjust="spacingAndGlyphs">MA Ribbon SMA close 20 SMA close 50 SMA close 100 SMA close 200</text>
<text x="402.5" y="79.3" font-size="13" fill="#f23645" textLength="38" lengthAdjust="spacingAndGlyphs">1.2673</text><text x="448" y="79.3" font-size="13" fill="#2962ff" textLength="38" lengthAdjust="spacingAndGlyphs">1.2528</text><text x="492.5" y="79.3" font-size="12" fill="#131722">∅</text><text x="506.5" y="79.3" font-size="13" fill="#131722" textLength="38" lengthAdjust="spacingAndGlyphs">1.2534</text>
<rect x="11.5" y="89.5" width="28" height="20" rx="3" fill="#fff" stroke="#d1d4dc"/><path d="M21.5 101.5l4-4l4 4" stroke="#131722" stroke-width="1.4" fill="none"/>
<rect x="8" y="693" width="120" height="23" fill="#fff" fill-opacity="0.6"/><rect x="8" y="723" width="148" height="23" fill="#fff" fill-opacity="0.6"/>
<text x="11" y="708.6" font-size="13" fill="#555555" textLength="67" lengthAdjust="spacingAndGlyphs">ATR 14 RMA</text><text x="86.7" y="708.6" font-size="13" fill="#b22833" textLength="38" lengthAdjust="spacingAndGlyphs">0.0084</text>
<text x="11" y="739" font-size="13" fill="#555555" textLength="101" lengthAdjust="spacingAndGlyphs">CCI 20 hlc3 SMA 5</text><text x="122" y="739" font-size="13" fill="#2962ff" textLength="31" lengthAdjust="spacingAndGlyphs">17.05</text>
<g stroke="#fff" stroke-width="3" stroke-linejoin="round"><path d="M14 775h12v15h-5.9v-9.1h-6.1z M37.5 775h6.4l-5.9 15h-6.9z" fill="#131722"/><circle cx="31" cy="777.9" r="2.85" fill="#131722"/></g><path d="M14 775h12v15h-5.9v-9.1h-6.1z M37.5 775h6.4l-5.9 15h-6.9z" fill="#131722"/><circle cx="31" cy="777.9" r="2.85" fill="#131722"/>
<text x="1279" y="787.5" font-size="58" font-weight="bold" font-style="italic" fill="#fff" fill-opacity="0.74" filter="url(#sh)" textLength="240" lengthAdjust="spacingAndGlyphs" style="font-family:'Liberation Sans','Noto Sans CJK SC','WenQuanYi Zen Hei',sans-serif">指马财经</text>
<text x="1297" y="826.5" font-size="33.5" font-weight="bold" font-style="italic" fill="#6a9ff0" fill-opacity="0.78" stroke="#6a9ff0" stroke-opacity="0.78" stroke-width="1.2" textLength="224" lengthAdjust="spacing">zzrt01.cn</text>
</svg></body></html>
